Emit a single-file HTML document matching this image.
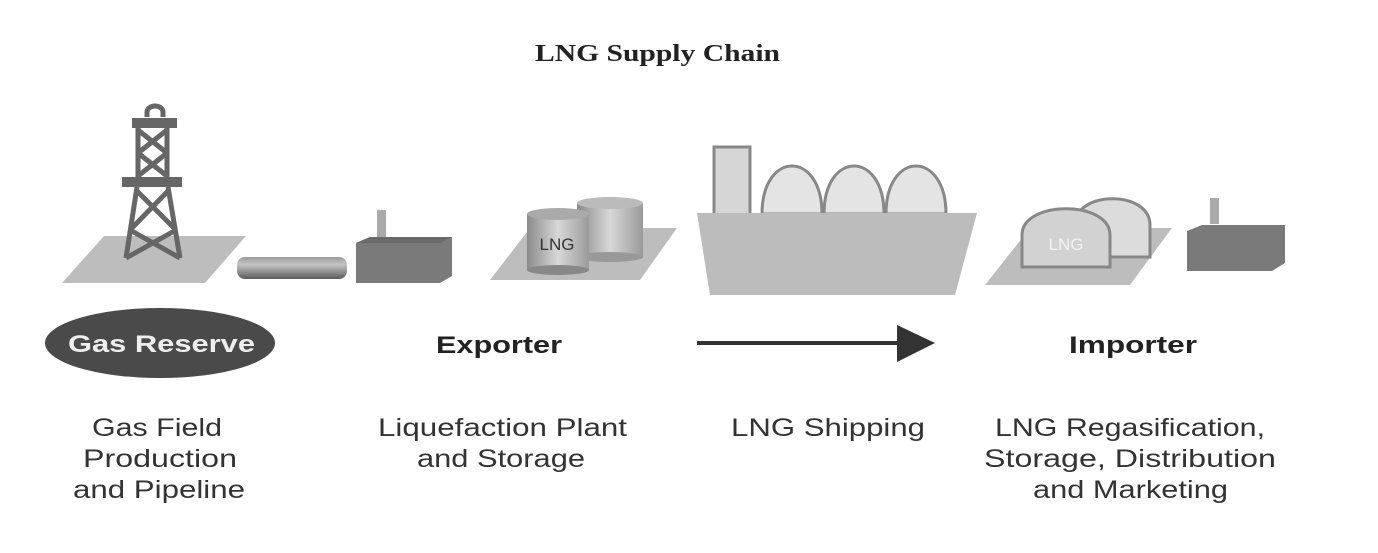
<!DOCTYPE html>
<html><head><meta charset="utf-8"><style>
html,body{margin:0;padding:0;background:#fff;}
svg{display:block;}
</style></head><body>
<svg width="1378" height="553" viewBox="0 0 1378 553" xmlns="http://www.w3.org/2000/svg">
<defs>
<linearGradient id="pipe" x1="0" y1="0" x2="0" y2="1">
<stop offset="0" stop-color="#9a9a9a"/><stop offset="0.35" stop-color="#c4c4c4"/><stop offset="1" stop-color="#5a5a5a"/>
</linearGradient>
<linearGradient id="cyl" x1="0" y1="0" x2="1" y2="0">
<stop offset="0" stop-color="#8a8a8a"/><stop offset="0.5" stop-color="#d8d8d8"/><stop offset="1" stop-color="#9a9a9a"/>
</linearGradient>
</defs>
<rect width="1378" height="553" fill="#fff"/>
<text x="535" y="61" textLength="245" lengthAdjust="spacingAndGlyphs" font-family="Liberation Serif, serif" font-weight="bold" font-size="24" fill="#222">LNG Supply Chain</text>

<!-- gas field -->
<polygon points="104,236 246,236 205,283 62,283" fill="#bdbdbd"/>
<g stroke="#666" stroke-width="5" fill="none">
<path d="M147,117 v-5 a8,6 0 0 1 16,0 v5"/>
<line x1="138" y1="128" x2="138" y2="178"/><line x1="167" y1="128" x2="167" y2="178"/>
<line x1="138" y1="130" x2="167" y2="153"/><line x1="167" y1="130" x2="138" y2="153"/>
<line x1="138" y1="153" x2="167" y2="176"/><line x1="167" y1="153" x2="138" y2="176"/>
<line x1="137" y1="187" x2="126" y2="258"/><line x1="168" y1="187" x2="180" y2="258"/>
<line x1="136" y1="190" x2="176" y2="230"/><line x1="169" y1="190" x2="130" y2="230"/>
<line x1="130" y1="230" x2="180" y2="258"/><line x1="176" y1="230" x2="126" y2="258"/>
</g>
<rect x="132" y="118" width="45" height="10" fill="#666"/>
<rect x="122" y="177" width="60" height="10" fill="#666"/>
<rect x="237" y="257" width="110" height="22" rx="8" fill="url(#pipe)"/>
<rect x="377" y="210" width="9" height="28" fill="#aaa"/>
<polygon points="356,243 370,237 452,237 452,276 440,283 356,283" fill="#7a7a7a"/>
<polygon points="356,243 370,237 452,237 440,243" fill="#6a6a6a"/>

<!-- exporter -->
<polygon points="530,228 677,228 640,280 490,280" fill="#bdbdbd"/>
<rect x="577" y="203" width="66" height="54" fill="url(#cyl)"/>
<ellipse cx="610" cy="203" rx="33" ry="6" fill="#bbb"/>
<ellipse cx="610" cy="257" rx="33" ry="5" fill="#999"/>
<rect x="527" y="214" width="62" height="56" fill="url(#cyl)"/>
<ellipse cx="558" cy="214" rx="31" ry="6" fill="#aaa"/>
<ellipse cx="558" cy="270" rx="31" ry="5" fill="#888"/>
<text x="557" y="250" text-anchor="middle" font-family="Liberation Sans, sans-serif" font-size="17" fill="#333">LNG</text>

<!-- ship -->
<rect x="714" y="147" width="36" height="68" fill="#d6d6d6" stroke="#888" stroke-width="3"/>
<g fill="#e4e4e4" stroke="#888" stroke-width="3">
<path d="M762,214 C762,150 822,150 822,214 Z"/>
<path d="M824,214 C824,150 884,150 884,214 Z"/>
<path d="M886,214 C886,150 946,150 946,214 Z"/>
</g>
<polygon points="697,213 977,213 955,295 710,295" fill="#bcbcbc"/>

<!-- importer -->
<polygon points="1030,228 1172,228 1130,285 985,285" fill="#bdbdbd"/>
<path d="M1075,257 V225 C1075,190 1150,190 1150,225 V257 Z" fill="#dcdcdc" stroke="#888" stroke-width="3"/>
<path d="M1022,267 V235 C1022,200 1110,200 1110,235 V267 Z" fill="#d2d2d2" stroke="#888" stroke-width="3"/>
<text x="1066" y="250" text-anchor="middle" font-family="Liberation Sans, sans-serif" font-size="17" fill="#f2f2f2">LNG</text>
<rect x="1210" y="198" width="9" height="26" fill="#aaa"/>
<polygon points="1187,231 1202,225 1285,225 1285,263 1272,271 1187,271" fill="#7a7a7a"/>

<!-- labels -->
<ellipse cx="160" cy="343" rx="115" ry="35" fill="#4a4a4a"/>
<g font-family="Liberation Sans, sans-serif" font-weight="bold" font-size="24" lengthAdjust="spacingAndGlyphs">
<text x="68" y="352" textLength="187" lengthAdjust="spacingAndGlyphs" fill="#eee">Gas Reserve</text>
<text x="436" y="353" textLength="126" lengthAdjust="spacingAndGlyphs" fill="#222">Exporter</text>
<text x="1069" y="353" textLength="128" lengthAdjust="spacingAndGlyphs" fill="#222">Importer</text>
</g>
<line x1="697" y1="343" x2="902" y2="343" stroke="#333" stroke-width="4"/>
<polygon points="897,325 935,343 897,362" fill="#333"/>

<g font-family="Liberation Sans, sans-serif" font-size="25" fill="#333">
<text x="92" y="436" textLength="130" lengthAdjust="spacingAndGlyphs">Gas Field</text>
<text x="83" y="467" textLength="154" lengthAdjust="spacingAndGlyphs">Production</text>
<text x="73" y="498" textLength="172" lengthAdjust="spacingAndGlyphs">and Pipeline</text>
<text x="378" y="436" textLength="249" lengthAdjust="spacingAndGlyphs">Liquefaction Plant</text>
<text x="417" y="467" textLength="168" lengthAdjust="spacingAndGlyphs">and Storage</text>
<text x="731" y="436" textLength="194" lengthAdjust="spacingAndGlyphs">LNG Shipping</text>
<text x="995" y="436" textLength="270" lengthAdjust="spacingAndGlyphs">LNG Regasification,</text>
<text x="984" y="467" textLength="292" lengthAdjust="spacingAndGlyphs">Storage, Distribution</text>
<text x="1033" y="498" textLength="195" lengthAdjust="spacingAndGlyphs">and Marketing</text>
</g>
</svg>
</body></html>
